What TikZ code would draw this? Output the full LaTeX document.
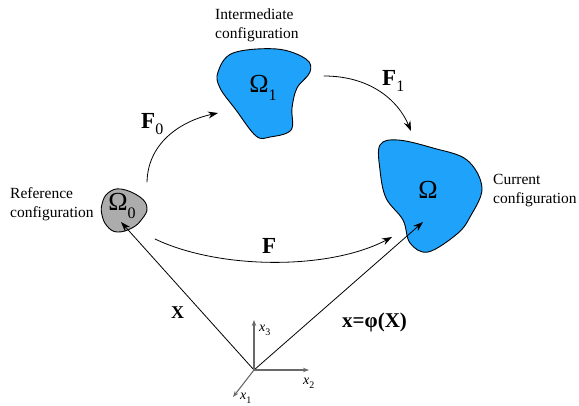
\documentclass[tikz,border=0pt]{standalone}
\usepackage{fontspec}
\setmainfont{Liberation Serif}
\usetikzlibrary{arrows.meta}
\definecolor{bodyblue}{RGB}{30,162,250}
\definecolor{bodygrey}{RGB}{172,172,172}
\definecolor{axisgrey}{RGB}{105,105,105}
\tikzset{
  body/.style={draw=black,line width=0.9pt},
  conf/.style={font=\fontsize{15.5}{18.5}\selectfont,align=left,inner sep=0pt},
  omlbl/.style={font=\fontsize{26}{26}\selectfont,inner sep=0pt},
  maplbl/.style={font=\fontsize{23}{23}\selectfont\bfseries,inner sep=0pt},
  axlbl/.style={font=\fontsize{14}{14}\selectfont,inner sep=0pt},
  maparrow/.style={line width=0.8pt,-{Stealth[length=10pt,width=7pt]}},
  axarrow/.style={axisgrey,line width=1.1pt,-{Stealth[length=6pt,width=4.5pt]}}
}
\newcommand{\sub}[1]{\raisebox{-0.28em}{\fontsize{16}{16}\selectfont\mdseries #1}}
\newcommand{\axsub}[1]{\raisebox{-0.3em}{\fontsize{10}{10}\selectfont #1}}
\begin{document}
\begin{tikzpicture}[x=1pt,y=-1pt,line cap=round,line join=round]
  \useasboundingbox (0,0) rectangle (579,405);
  % bodies
  \draw[body,fill=bodygrey] plot[smooth cycle,tension=0.7] coordinates
    {(102,204) (108,193) (121,189) (140,197) (147,208) (142,219) (132,228)
     (117,232) (107,226) (102,215)};
  \draw[body,fill=bodyblue] plot[smooth cycle,tension=0.6] coordinates
    {(233,53) (277,49) (306,59) (310,72) (297,88) (292,108) (291,130)
     (270,137) (256,136) (236,110) (220,88) (218,72)};
  \draw[body,fill=bodyblue] plot[smooth cycle,tension=0.6] coordinates
    {(380,145) (398,140) (433,148) (467,160) (482,188) (470,217) (457,234)
     (428,252) (410,243) (403,220) (386,198) (380,170)};
  % labels
  \node[omlbl] (om0) at (122,206) {Ω\sub{0}};
  \node[omlbl] (om1) at (263,88) {Ω\sub{1}};
  \node[omlbl] (om) at (428,190) {Ω};
  \node[conf,anchor=base west] (refconf) at (10,217) {Reference\\configuration};
  \node[conf,anchor=base west] (intconf) at (215,38) {Intermediate\\configuration};
  \node[conf,anchor=base west] (curconf) at (493,203) {Current\\configuration};
  \node[maplbl,anchor=base west] (F0) at (141,128) {F\sub{0}};
  \node[maplbl,anchor=base west] (F1) at (382,85) {F\sub{1}};
  \node[maplbl,anchor=base west] (F) at (262,253) {F};
  \node[font=\fontsize{18}{18}\selectfont\bfseries,anchor=base west,inner sep=0pt] (X) at (171,318) {X};
  \node[font=\fontsize{21}{21}\selectfont\bfseries,anchor=base west,inner sep=0pt] (phi) at (342,327) {x=φ(X)};
  % points
  \coordinate (O) at (254,370);
  \coordinate (refTop) at (147,182);
  \coordinate (refRight) at (155,239);
  \coordinate (refTip) at (121,222);
  \coordinate (intIn) at (218,113);
  \coordinate (intOut) at (324,76);
  \coordinate (curTop) at (411,131);
  \coordinate (curLeft) at (392,237);
  \coordinate (curTip) at (423,222);
  % maps
  \draw[maparrow] (refTop) .. controls (148,140) and (185,120) .. (intIn);
  \draw[maparrow] (intOut) .. controls (370,76) and (398,100) .. (curTop);
  \draw[maparrow] (refRight) .. controls (220,270) and (330,270) .. (curLeft);
  \draw[maparrow] (O) -- (refTip);
  \draw[maparrow] (O) -- (curTip);
  % axes
  \draw[axarrow] (O) -- (254,320);
  \node[axlbl,anchor=base west] (x3) at (259,331) {\textit{x}\axsub{3}};
  \draw[axarrow] (O) -- (309,370);
  \node[axlbl,anchor=base west] (x2) at (303,384) {\textit{x}\axsub{2}};
  \draw[axarrow] (O) -- (233,397);
  \node[axlbl,anchor=base west] (x1) at (240,399) {\textit{x}\axsub{1}};
\end{tikzpicture}
\end{document}
